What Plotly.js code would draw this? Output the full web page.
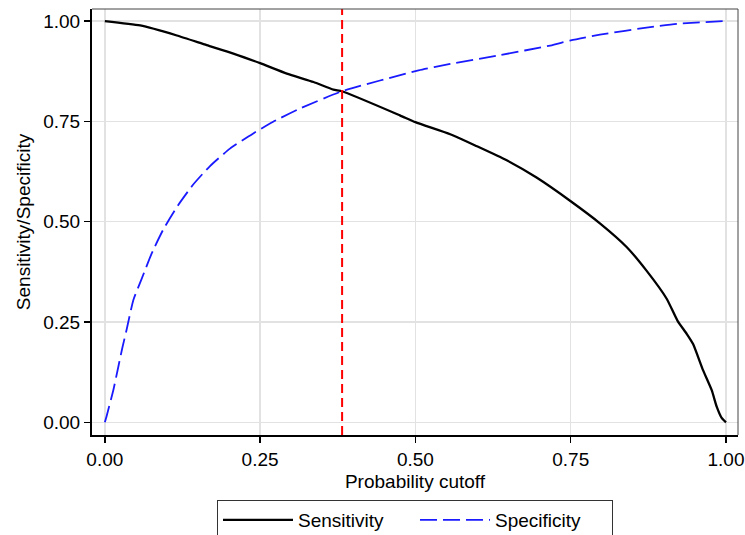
<!DOCTYPE html>
<html>
<head>
<meta charset="utf-8">
<script src="https://cdn.plot.ly/plotly-3.0.1.min.js"></script>
<style>html,body{margin:0;padding:0;background:#fff;}#chart{width:745px;height:535px;}</style>
</head>
<body>
<div id="chart"></div>
<script>
// Sensitivity curve (probability cutoff -> sensitivity)
const sensCutoff = [0, 0.057, 0.116, 0.164, 0.207, 0.25, 0.293, 0.336, 0.368, 0.382, 0.475, 0.50, 0.556, 0.599, 0.647, 0.695, 0.75, 0.797, 0.84, 0.872, 0.9045, 0.922, 0.937, 0.947, 0.963, 0.977, 0.985, 0.993, 1.0];
const sensitivity = [1.0, 0.989, 0.964, 0.940, 0.919, 0.895, 0.869, 0.848, 0.829, 0.825, 0.765, 0.748, 0.718, 0.688, 0.653, 0.610, 0.551, 0.496, 0.437, 0.378, 0.308, 0.253, 0.220, 0.195, 0.130, 0.080, 0.039, 0.011, 0.0];

// Specificity curve (probability cutoff -> specificity)
const specCutoff = [0, 0.003, 0.0137, 0.0217, 0.028, 0.035, 0.046, 0.059, 0.0755, 0.094, 0.118, 0.142, 0.169, 0.2015, 0.239, 0.271, 0.314, 0.382, 0.505, 0.556, 0.636, 0.717, 0.75, 0.797, 0.878, 0.921, 1.0];
const specificity = [0, 0.016, 0.080, 0.138, 0.184, 0.230, 0.305, 0.356, 0.421, 0.480, 0.541, 0.592, 0.638, 0.682, 0.720, 0.749, 0.782, 0.825, 0.877, 0.893, 0.915, 0.939, 0.952, 0.966, 0.985, 0.993, 1.0];

// Optimal cutoff marker
const optimalCutoff = 0.382;

const tickVals = [0, 0.25, 0.5, 0.75, 1];
const tickText = ["0.00", "0.25", "0.50", "0.75", "1.00"];

const font = {family: 'Liberation Sans, Arial, Helvetica, sans-serif', color: '#000'};

const traces = [
  {x: sensCutoff, y: sensitivity, type: 'scatter', mode: 'lines', name: 'Sensitivity',
   line: {color: '#000000', width: 2.3, shape: 'spline', smoothing: 0.5}},
  {x: specCutoff, y: specificity, type: 'scatter', mode: 'lines', name: 'Specificity',
   line: {color: '#1a1aff', width: 1.8, dash: '17px,6px', shape: 'spline', smoothing: 0.5}}
];

const axisCommon = {
  tickvals: tickVals, ticktext: tickText,
  ticks: 'outside', ticklen: 6, tickwidth: 1.5, tickcolor: '#000',
  showline: true, linewidth: 2, linecolor: '#000', mirror: false,
  showgrid: true, gridcolor: '#e2e2e2', gridwidth: 1.5, zeroline: false,
  tickfont: Object.assign({size: 19}, font)
};

const layout = {
  width: 745, height: 535,
  margin: {l: 92, r: 7, t: 9, b: 100, autoexpand: false},
  paper_bgcolor: '#fff', plot_bgcolor: '#fff',
  font: font,
  xaxis: Object.assign({}, axisCommon, {
    range: [-0.0206, 1.0193],
    title: {text: 'Probability cutoff', font: Object.assign({size: 19}, font), standoff: 6}
  }),
  yaxis: Object.assign({}, axisCommon, {
    range: [-0.0316, 1.030],
    title: {text: 'Sensitivity/Specificity', font: Object.assign({size: 19}, font), standoff: 8}
  }),
  showlegend: true,
  legend: {
    orientation: 'h', x: 0.5, xanchor: 'center', y: -0.1526, yanchor: 'top',
    bordercolor: '#333', borderwidth: 1, bgcolor: '#fff',
    font: Object.assign({size: 19}, font), itemwidth: 70, entrywidth: 112, tracegroupgap: 0
  },
  shapes: [
    {type: 'line', xref: 'x', yref: 'paper', x0: optimalCutoff, x1: optimalCutoff, y0: 0, y1: 1,
     line: {color: '#ff0000', width: 2, dash: '9px,5px'}},
    {type: 'line', xref: 'paper', yref: 'paper', x0: 0, x1: 1, y0: 1, y1: 1,
     line: {color: '#444', width: 1}},
    {type: 'line', xref: 'paper', yref: 'paper', x0: 1, x1: 1, y0: 0, y1: 1,
     line: {color: '#444', width: 1}}
  ]
};

Plotly.newPlot('chart', traces, layout, {displayModeBar: false, staticPlot: true});
</script>
</body>
</html>
